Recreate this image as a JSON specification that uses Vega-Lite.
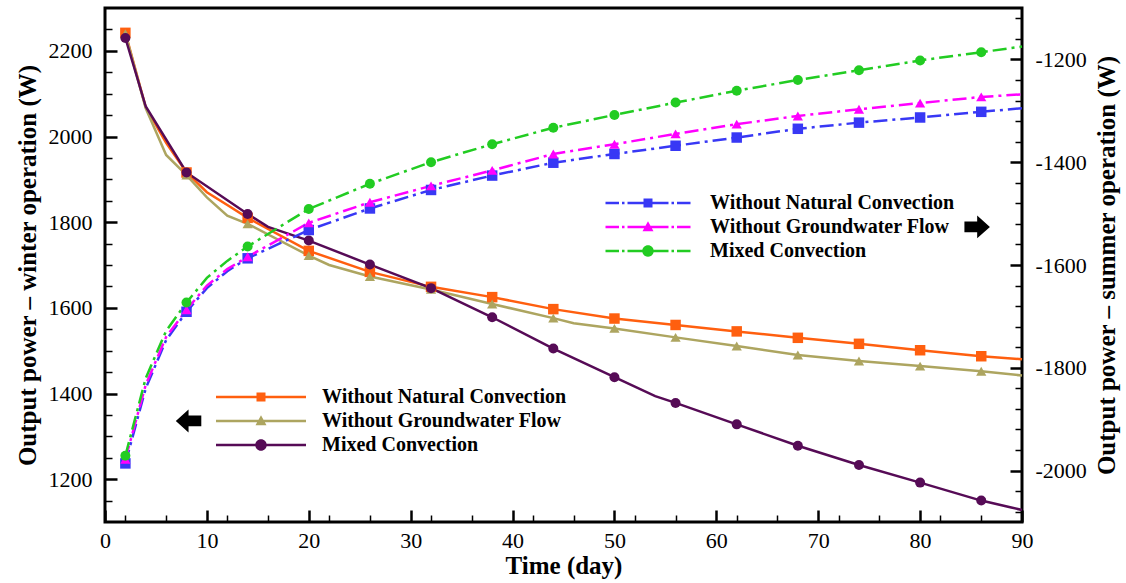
{
  "$schema": "https://vega.github.io/schema/vega-lite/v6.json",
  "width": 917,
  "height": 514,
  "autosize": {"type": "none"},
  "padding": {"left": 105, "top": 8, "right": 104, "bottom": 61},
  "background": "white",
  "config": {
    "font": "Liberation Serif",
    "view": {"stroke": "black", "strokeWidth": 3},
    "axis": {
      "grid": false, "domain": false, "ticks": true,
      "tickColor": "black", "labelColor": "black", "labelFont": "Liberation Serif", "labelFontSize": 22,
      "titleFont": "Liberation Serif", "titleFontSize": 25, "titleFontWeight": "bold", "titleColor": "black",
      "labelOverlap": false, "labelFlush": false
    },
    "legend": {
      "orient": "none", "direction": "vertical", "title": null, "padding": 0,
      "symbolSize": 100, "symbolOffset": 0, "symbolStrokeWidth": 0, "symbolOpacity": 1, "rowPadding": 4,
      "labelFont": "Liberation Serif", "labelFontSize": 20, "labelFontWeight": "bold", "labelColor": "black", "labelLimit": 500
    }
  },
  "datasets": {
    "curves": [
      {"season": "winter", "case": "Without Natural Convection", "day": 2, "power": 2242, "marker": true},
      {"season": "winter", "case": "Without Natural Convection", "day": 4, "power": 2068, "marker": false},
      {"season": "winter", "case": "Without Natural Convection", "day": 6, "power": 1985, "marker": false},
      {"season": "winter", "case": "Without Natural Convection", "day": 8, "power": 1916, "marker": true},
      {"season": "winter", "case": "Without Natural Convection", "day": 10, "power": 1870, "marker": false},
      {"season": "winter", "case": "Without Natural Convection", "day": 12, "power": 1840, "marker": false},
      {"season": "winter", "case": "Without Natural Convection", "day": 14, "power": 1810, "marker": true},
      {"season": "winter", "case": "Without Natural Convection", "day": 20, "power": 1733, "marker": true},
      {"season": "winter", "case": "Without Natural Convection", "day": 26, "power": 1684, "marker": true},
      {"season": "winter", "case": "Without Natural Convection", "day": 32, "power": 1649, "marker": true},
      {"season": "winter", "case": "Without Natural Convection", "day": 38, "power": 1625, "marker": true},
      {"season": "winter", "case": "Without Natural Convection", "day": 44, "power": 1597, "marker": true},
      {"season": "winter", "case": "Without Natural Convection", "day": 50, "power": 1575, "marker": true},
      {"season": "winter", "case": "Without Natural Convection", "day": 56, "power": 1560, "marker": true},
      {"season": "winter", "case": "Without Natural Convection", "day": 62, "power": 1545, "marker": true},
      {"season": "winter", "case": "Without Natural Convection", "day": 68, "power": 1530, "marker": true},
      {"season": "winter", "case": "Without Natural Convection", "day": 74, "power": 1516, "marker": true},
      {"season": "winter", "case": "Without Natural Convection", "day": 80, "power": 1501, "marker": true},
      {"season": "winter", "case": "Without Natural Convection", "day": 86, "power": 1487, "marker": true},
      {"season": "winter", "case": "Without Natural Convection", "day": 90, "power": 1480, "marker": false},

      {"season": "winter", "case": "Without Groundwater Flow", "day": 2, "power": 2240, "marker": true},
      {"season": "winter", "case": "Without Groundwater Flow", "day": 4, "power": 2066, "marker": false},
      {"season": "winter", "case": "Without Groundwater Flow", "day": 6, "power": 1957, "marker": false},
      {"season": "winter", "case": "Without Groundwater Flow", "day": 8, "power": 1910, "marker": true},
      {"season": "winter", "case": "Without Groundwater Flow", "day": 10, "power": 1858, "marker": false},
      {"season": "winter", "case": "Without Groundwater Flow", "day": 12, "power": 1815, "marker": false},
      {"season": "winter", "case": "Without Groundwater Flow", "day": 14, "power": 1796, "marker": true},
      {"season": "winter", "case": "Without Groundwater Flow", "day": 20, "power": 1722, "marker": true},
      {"season": "winter", "case": "Without Groundwater Flow", "day": 22, "power": 1700, "marker": false},
      {"season": "winter", "case": "Without Groundwater Flow", "day": 26, "power": 1673, "marker": true},
      {"season": "winter", "case": "Without Groundwater Flow", "day": 32, "power": 1643, "marker": true},
      {"season": "winter", "case": "Without Groundwater Flow", "day": 38, "power": 1609, "marker": true},
      {"season": "winter", "case": "Without Groundwater Flow", "day": 44, "power": 1576, "marker": true},
      {"season": "winter", "case": "Without Groundwater Flow", "day": 46, "power": 1564, "marker": false},
      {"season": "winter", "case": "Without Groundwater Flow", "day": 50, "power": 1552, "marker": true},
      {"season": "winter", "case": "Without Groundwater Flow", "day": 56, "power": 1531, "marker": true},
      {"season": "winter", "case": "Without Groundwater Flow", "day": 62, "power": 1511, "marker": true},
      {"season": "winter", "case": "Without Groundwater Flow", "day": 68, "power": 1490, "marker": true},
      {"season": "winter", "case": "Without Groundwater Flow", "day": 74, "power": 1476, "marker": true},
      {"season": "winter", "case": "Without Groundwater Flow", "day": 80, "power": 1464, "marker": true},
      {"season": "winter", "case": "Without Groundwater Flow", "day": 86, "power": 1452, "marker": true},
      {"season": "winter", "case": "Without Groundwater Flow", "day": 90, "power": 1442, "marker": false},

      {"season": "winter", "case": "Mixed Convection", "day": 2, "power": 2230, "marker": true},
      {"season": "winter", "case": "Mixed Convection", "day": 4, "power": 2070, "marker": false},
      {"season": "winter", "case": "Mixed Convection", "day": 8, "power": 1916, "marker": true},
      {"season": "winter", "case": "Mixed Convection", "day": 14, "power": 1819, "marker": true},
      {"season": "winter", "case": "Mixed Convection", "day": 16, "power": 1789, "marker": false},
      {"season": "winter", "case": "Mixed Convection", "day": 20, "power": 1757, "marker": true},
      {"season": "winter", "case": "Mixed Convection", "day": 26, "power": 1701, "marker": true},
      {"season": "winter", "case": "Mixed Convection", "day": 32, "power": 1646, "marker": true},
      {"season": "winter", "case": "Mixed Convection", "day": 38, "power": 1578, "marker": true},
      {"season": "winter", "case": "Mixed Convection", "day": 44, "power": 1505, "marker": true},
      {"season": "winter", "case": "Mixed Convection", "day": 50, "power": 1438, "marker": true},
      {"season": "winter", "case": "Mixed Convection", "day": 54, "power": 1394, "marker": false},
      {"season": "winter", "case": "Mixed Convection", "day": 56, "power": 1378, "marker": true},
      {"season": "winter", "case": "Mixed Convection", "day": 62, "power": 1328, "marker": true},
      {"season": "winter", "case": "Mixed Convection", "day": 68, "power": 1278, "marker": true},
      {"season": "winter", "case": "Mixed Convection", "day": 74, "power": 1233, "marker": true},
      {"season": "winter", "case": "Mixed Convection", "day": 80, "power": 1192, "marker": true},
      {"season": "winter", "case": "Mixed Convection", "day": 86, "power": 1150, "marker": true},
      {"season": "winter", "case": "Mixed Convection", "day": 90, "power": 1128, "marker": false},

      {"season": "summer", "case": "Without Natural Convection", "day": 2, "power": -1986, "marker": true},
      {"season": "summer", "case": "Without Natural Convection", "day": 4, "power": -1840, "marker": false},
      {"season": "summer", "case": "Without Natural Convection", "day": 6, "power": -1746, "marker": false},
      {"season": "summer", "case": "Without Natural Convection", "day": 8, "power": -1691, "marker": true},
      {"season": "summer", "case": "Without Natural Convection", "day": 10, "power": -1645, "marker": false},
      {"season": "summer", "case": "Without Natural Convection", "day": 12, "power": -1612, "marker": false},
      {"season": "summer", "case": "Without Natural Convection", "day": 14, "power": -1587, "marker": true},
      {"season": "summer", "case": "Without Natural Convection", "day": 20, "power": -1532, "marker": true},
      {"season": "summer", "case": "Without Natural Convection", "day": 26, "power": -1490, "marker": true},
      {"season": "summer", "case": "Without Natural Convection", "day": 32, "power": -1454, "marker": true},
      {"season": "summer", "case": "Without Natural Convection", "day": 38, "power": -1426, "marker": true},
      {"season": "summer", "case": "Without Natural Convection", "day": 44, "power": -1401, "marker": true},
      {"season": "summer", "case": "Without Natural Convection", "day": 50, "power": -1384, "marker": true},
      {"season": "summer", "case": "Without Natural Convection", "day": 56, "power": -1368, "marker": true},
      {"season": "summer", "case": "Without Natural Convection", "day": 62, "power": -1352, "marker": true},
      {"season": "summer", "case": "Without Natural Convection", "day": 68, "power": -1335, "marker": true},
      {"season": "summer", "case": "Without Natural Convection", "day": 74, "power": -1323, "marker": true},
      {"season": "summer", "case": "Without Natural Convection", "day": 80, "power": -1313, "marker": true},
      {"season": "summer", "case": "Without Natural Convection", "day": 86, "power": -1302, "marker": true},
      {"season": "summer", "case": "Without Natural Convection", "day": 90, "power": -1295, "marker": false},

      {"season": "summer", "case": "Without Groundwater Flow", "day": 2, "power": -1978, "marker": true},
      {"season": "summer", "case": "Without Groundwater Flow", "day": 4, "power": -1833, "marker": false},
      {"season": "summer", "case": "Without Groundwater Flow", "day": 6, "power": -1740, "marker": false},
      {"season": "summer", "case": "Without Groundwater Flow", "day": 8, "power": -1687, "marker": true},
      {"season": "summer", "case": "Without Groundwater Flow", "day": 10, "power": -1640, "marker": false},
      {"season": "summer", "case": "Without Groundwater Flow", "day": 12, "power": -1608, "marker": false},
      {"season": "summer", "case": "Without Groundwater Flow", "day": 14, "power": -1584, "marker": true},
      {"season": "summer", "case": "Without Groundwater Flow", "day": 20, "power": -1518, "marker": true},
      {"season": "summer", "case": "Without Groundwater Flow", "day": 26, "power": -1478, "marker": true},
      {"season": "summer", "case": "Without Groundwater Flow", "day": 32, "power": -1446, "marker": true},
      {"season": "summer", "case": "Without Groundwater Flow", "day": 38, "power": -1416, "marker": true},
      {"season": "summer", "case": "Without Groundwater Flow", "day": 44, "power": -1384, "marker": true},
      {"season": "summer", "case": "Without Groundwater Flow", "day": 50, "power": -1365, "marker": true},
      {"season": "summer", "case": "Without Groundwater Flow", "day": 56, "power": -1345, "marker": true},
      {"season": "summer", "case": "Without Groundwater Flow", "day": 62, "power": -1326, "marker": true},
      {"season": "summer", "case": "Without Groundwater Flow", "day": 68, "power": -1310, "marker": true},
      {"season": "summer", "case": "Without Groundwater Flow", "day": 74, "power": -1297, "marker": true},
      {"season": "summer", "case": "Without Groundwater Flow", "day": 80, "power": -1285, "marker": true},
      {"season": "summer", "case": "Without Groundwater Flow", "day": 86, "power": -1273, "marker": true},
      {"season": "summer", "case": "Without Groundwater Flow", "day": 90, "power": -1268, "marker": false},

      {"season": "summer", "case": "Mixed Convection", "day": 2, "power": -1971, "marker": true},
      {"season": "summer", "case": "Mixed Convection", "day": 4, "power": -1820, "marker": false},
      {"season": "summer", "case": "Mixed Convection", "day": 6, "power": -1728, "marker": false},
      {"season": "summer", "case": "Mixed Convection", "day": 8, "power": -1673, "marker": true},
      {"season": "summer", "case": "Mixed Convection", "day": 10, "power": -1625, "marker": false},
      {"season": "summer", "case": "Mixed Convection", "day": 12, "power": -1592, "marker": false},
      {"season": "summer", "case": "Mixed Convection", "day": 14, "power": -1564, "marker": true},
      {"season": "summer", "case": "Mixed Convection", "day": 20, "power": -1491, "marker": true},
      {"season": "summer", "case": "Mixed Convection", "day": 26, "power": -1442, "marker": true},
      {"season": "summer", "case": "Mixed Convection", "day": 32, "power": -1400, "marker": true},
      {"season": "summer", "case": "Mixed Convection", "day": 38, "power": -1365, "marker": true},
      {"season": "summer", "case": "Mixed Convection", "day": 44, "power": -1333, "marker": true},
      {"season": "summer", "case": "Mixed Convection", "day": 50, "power": -1308, "marker": true},
      {"season": "summer", "case": "Mixed Convection", "day": 56, "power": -1284, "marker": true},
      {"season": "summer", "case": "Mixed Convection", "day": 62, "power": -1261, "marker": true},
      {"season": "summer", "case": "Mixed Convection", "day": 68, "power": -1240, "marker": true},
      {"season": "summer", "case": "Mixed Convection", "day": 74, "power": -1221, "marker": true},
      {"season": "summer", "case": "Mixed Convection", "day": 80, "power": -1202, "marker": true},
      {"season": "summer", "case": "Mixed Convection", "day": 86, "power": -1186, "marker": true},
      {"season": "summer", "case": "Mixed Convection", "day": 90, "power": -1175, "marker": false}
    ],
    "arrows": [
      {"dir": "left", "day": 8.2, "power": 1336},
      {"dir": "right", "day": 85.6, "power": 1789}
    ]
  },
  "layer": [
    {
      "layer": [
        {
          "data": {"name": "curves"},
          "transform": [{"filter": "datum.season === 'winter'"}],
          "mark": {"type": "line", "strokeWidth": 2.5},
          "encoding": {
            "x": {
              "field": "day", "type": "quantitative",
              "scale": {"domain": [0, 90], "nice": false, "zero": false},
              "axis": {
                "orient": "bottom",
                "values": [0, 10, 20, 30, 40, 50, 60, 70, 80, 90],
                "labelOverlap": false,
                "offset": -12,
                "tickSize": 12,
                "tickWidth": 2.5,
                "labelPadding": 8,
                "title": "Time (day)",
                "titlePadding": 2
              }
            },
            "y": {
              "field": "power", "type": "quantitative",
              "scale": {"domain": [1100, 2300], "nice": false, "zero": false},
              "axis": {
                "orient": "left",
                "values": [1200, 1400, 1600, 1800, 2000, 2200],
                "format": "d",
                "labelOverlap": false,
                "offset": -12,
                "tickSize": 12,
                "tickWidth": 2.5,
                "labelPadding": 13,
                "title": "Output power – winter operation (W)",
                "titlePadding": 8
              }
            },
            "stroke": {
              "field": "case", "type": "nominal",
              "scale": {"domain": ["Without Natural Convection", "Without Groundwater Flow", "Mixed Convection"], "range": ["#FF5F0F", "#ADA560", "#560B56"]},
              "legend": null
            }
          }
        },
        {
          "data": {"name": "curves"},
          "transform": [{"filter": "datum.season === 'winter' && datum.marker"}],
          "mark": {"type": "point", "filled": true, "opacity": 1},
          "encoding": {
            "x": {"field": "day", "type": "quantitative"},
            "y": {
              "field": "power", "type": "quantitative",
              "axis": {
                "orient": "left",
                "values": [1150, 1250, 1300, 1350, 1450, 1500, 1550, 1650, 1700, 1750, 1850, 1900, 1950, 2050, 2100, 2150, 2250],
                "labels": false, "title": null, "domain": false, "offset": -7, "tickSize": 7, "tickWidth": 1.5
              }
            },
            "fill": {"field": "case", "type": "nominal", "scale": {"domain": ["Without Natural Convection", "Without Groundwater Flow", "Mixed Convection"], "range": ["#FF5F0F", "#ADA560", "#560B56"]}, "legend": null},
            "shape": {"field": "case", "type": "nominal", "scale": {"domain": ["Without Natural Convection", "Without Groundwater Flow", "Mixed Convection"], "range": ["square", "triangle-up", "circle"]}, "legend": null},
            "size": {"field": "case", "type": "nominal", "scale": {"domain": ["Without Natural Convection", "Without Groundwater Flow", "Mixed Convection"], "range": [110, 100, 170]}, "legend": null}
          }
        },
        {
          "data": {"name": "curves"},
          "transform": [{"filter": "false"}],
          "mark": {"type": "point", "filled": true, "opacity": 1},
          "encoding": {
            "x": {"field": "day", "type": "quantitative"},
            "y": {"field": "power", "type": "quantitative", "axis": null},
            "color": {
              "field": "case", "type": "nominal",
              "scale": {"domain": ["Without Natural Convection", "Without Groundwater Flow", "Mixed Convection"], "range": ["#FF5F0F", "#ADA560", "#560B56"]},
              "legend": {"legendX": 146, "legendY": 379, "labelOffset": 51}
            },
            "shape": {
              "field": "case", "type": "nominal",
              "scale": {"domain": ["Without Natural Convection", "Without Groundwater Flow", "Mixed Convection"], "range": [
                "M-9,-0.25H9V0.25H-9ZM-0.9,-0.9H0.9V0.9H-0.9Z",
                "M-9,-0.25H9V0.25H-9ZM0,-1.15L1.1,0.85H-1.1Z",
                "M-9,-0.25H9V0.25H-9ZM1.15,0A1.15,1.15,0,1,1,-1.15,0A1.15,1.15,0,1,1,1.15,0Z"
              ]},
              "legend": {"legendX": 146, "legendY": 379, "labelOffset": 51}
            }
          }
        },
        {
          "data": {"name": "arrows"},
          "transform": [{"filter": "datum.dir === 'left'"}],
          "mark": {"type": "point", "shape": "M-1,0L0,-0.9V-0.42H1V0.42H0V0.9Z", "filled": true, "color": "black", "opacity": 1, "size": 650},
          "encoding": {
            "x": {"field": "day", "type": "quantitative"},
            "y": {"field": "power", "type": "quantitative", "axis": null}
          }
        },
        {
          "data": {"name": "arrows"},
          "transform": [{"filter": "datum.dir === 'right'"}],
          "mark": {"type": "point", "shape": "M1,0L0,-0.9V-0.42H-1V0.42H0V0.9Z", "filled": true, "color": "black", "opacity": 1, "size": 650},
          "encoding": {
            "x": {"field": "day", "type": "quantitative"},
            "y": {"field": "power", "type": "quantitative", "axis": null}
          }
        }
      ],
      "resolve": {"scale": {"shape": "independent", "size": "independent", "color": "independent"}, "axis": {"y": "independent"}}
    },
    {
      "layer": [
        {
          "data": {"name": "curves"},
          "transform": [{"filter": "datum.season === 'summer'"}],
          "mark": {"type": "line", "strokeWidth": 2.5, "strokeDash": [14, 5, 3, 5]},
          "encoding": {
            "x": {
              "field": "day", "type": "quantitative",
              "axis": {
                "orient": "bottom",
                "values": [2,4,6,8,12,14,16,18,22,24,26,28,32,34,36,38,42,44,46,48,52,54,56,58,62,64,66,68,72,74,76,78,82,84,86,88],
                "labels": false, "title": null, "domain": false, "offset": -7, "tickSize": 7, "tickWidth": 1.5
              }
            },
            "y": {
              "field": "power", "type": "quantitative",
              "scale": {"domain": [-2100, -1100], "nice": false, "zero": false},
              "axis": {
                "orient": "right",
                "values": [-2000, -1800, -1600, -1400, -1200],
                "labelExpr": "'' + datum.value",
                "labelOverlap": false,
                "offset": -12,
                "tickSize": 12,
                "tickWidth": 2.5,
                "labelPadding": 13,
                "title": "Output power – summer operation (W)",
                "titleAngle": 270,
                "titleBaseline": "top",
                "titlePadding": 8
              }
            },
            "stroke": {
              "field": "case", "type": "nominal",
              "scale": {"domain": ["Without Natural Convection", "Without Groundwater Flow", "Mixed Convection"], "range": ["#3838F5", "#FF00FF", "#22CC22"]},
              "legend": null
            }
          }
        },
        {
          "data": {"name": "curves"},
          "transform": [{"filter": "datum.season === 'summer' && datum.marker"}],
          "mark": {"type": "point", "filled": true, "opacity": 1},
          "encoding": {
            "x": {"field": "day", "type": "quantitative"},
            "y": {
              "field": "power", "type": "quantitative",
              "axis": {
                "orient": "right",
                "values": [-2080,-2040,-1960,-1920,-1880,-1840,-1760,-1720,-1680,-1640,-1560,-1520,-1480,-1440,-1360,-1320,-1280,-1240,-1160,-1120],
                "labels": false, "title": null, "domain": false, "offset": -7, "tickSize": 7, "tickWidth": 1.5
              }
            },
            "fill": {"field": "case", "type": "nominal", "scale": {"domain": ["Without Natural Convection", "Without Groundwater Flow", "Mixed Convection"], "range": ["#3838F5", "#FF00FF", "#22CC22"]}, "legend": null},
            "shape": {"field": "case", "type": "nominal", "scale": {"domain": ["Without Natural Convection", "Without Groundwater Flow", "Mixed Convection"], "range": ["square", "triangle-up", "circle"]}, "legend": null},
            "size": {"field": "case", "type": "nominal", "scale": {"domain": ["Without Natural Convection", "Without Groundwater Flow", "Mixed Convection"], "range": [110, 100, 170]}, "legend": null}
          }
        },
        {
          "data": {"name": "curves"},
          "transform": [{"filter": "false"}],
          "mark": {"type": "point", "filled": true, "opacity": 1},
          "encoding": {
            "x": {"field": "day", "type": "quantitative"},
            "y": {"field": "power", "type": "quantitative", "axis": null},
            "color": {
              "field": "case", "type": "nominal",
              "scale": {"domain": ["Without Natural Convection", "Without Groundwater Flow", "Mixed Convection"], "range": ["#3838F5", "#FF00FF", "#22CC22"]},
              "legend": {"legendX": 533, "legendY": 185, "labelOffset": 52}
            },
            "shape": {
              "field": "case", "type": "nominal",
              "scale": {"domain": ["Without Natural Convection", "Without Groundwater Flow", "Mixed Convection"], "range": [
                "M-8.5,-0.25H-5.8V0.25H-8.5ZM-5.2,-0.25H-4.7V0.25H-5.2ZM-4.1,-0.25H4.1V0.25H-4.1ZM4.7,-0.25H5.2V0.25H4.7ZM5.8,-0.25H8.5V0.25H5.8ZM-0.9,-0.9H0.9V0.9H-0.9Z",
                "M-8.5,-0.25H-5.8V0.25H-8.5ZM-5.2,-0.25H-4.7V0.25H-5.2ZM-4.1,-0.25H4.1V0.25H-4.1ZM4.7,-0.25H5.2V0.25H4.7ZM5.8,-0.25H8.5V0.25H5.8ZM0,-1.15L1.1,0.85H-1.1Z",
                "M-8.5,-0.25H-5.8V0.25H-8.5ZM-5.2,-0.25H-4.7V0.25H-5.2ZM-4.1,-0.25H4.1V0.25H-4.1ZM4.7,-0.25H5.2V0.25H4.7ZM5.8,-0.25H8.5V0.25H5.8ZM1.15,0A1.15,1.15,0,1,1,-1.15,0A1.15,1.15,0,1,1,1.15,0Z"
              ]},
              "legend": {"legendX": 533, "legendY": 185, "labelOffset": 52}
            }
          }
        }
      ],
      "resolve": {"scale": {"shape": "independent", "size": "independent", "color": "independent"}, "axis": {"y": "independent"}}
    }
  ],
  "resolve": {"scale": {"y": "independent", "color": "independent", "shape": "independent", "size": "independent", "fill": "independent", "stroke": "independent"}, "axis": {"x": "independent"}}
}
